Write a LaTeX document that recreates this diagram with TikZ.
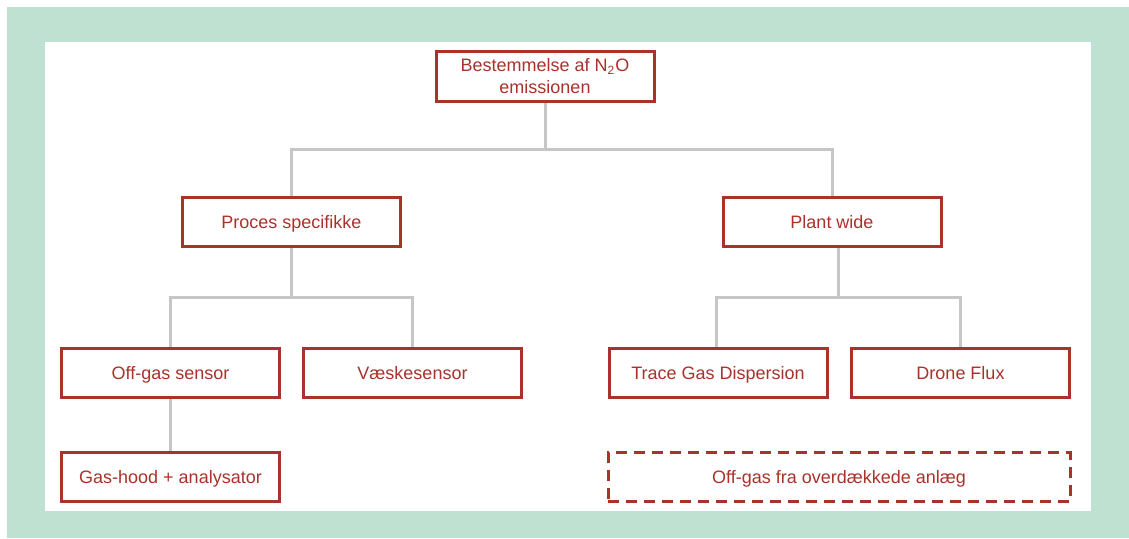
\documentclass[tikz,border=0pt]{standalone}
\usepackage{fontspec}
\setmainfont{Liberation Sans}
\usetikzlibrary{positioning}
\definecolor{cred}{HTML}{A9322B}
\definecolor{cgrey}{HTML}{C6C6C6}
\definecolor{cmint}{HTML}{BFE1D2}
\tikzset{
  every picture/.style={font=\fontsize{9}{11}\selectfont},
  box/.style={draw=cred, fill=white, text=cred, line width=1.5pt, align=center,
    minimum width=109pt, minimum height=24.5pt, inner sep=2pt,
    text height=1.6ex, text depth=.45ex},
  link/.style={draw=cgrey, line width=1.5pt},
}

\begin{document}
\begin{tikzpicture}[x=0.5pt, y=-0.5pt,
  wide/.style={box, minimum width=231pt},
  open/.style={wide, dash pattern=on 5.5pt off 3.5pt}]
  \useasboundingbox (0,0) rectangle (1129,538);
  \fill[cmint] (7,7) rectangle (1129,538);
  \fill[white] (45,42) rectangle (1091,511);
  % top and level one
  \node[box, minimum height=25pt, text height=, text depth=] (root) at (545,76.5) {Bestemmelse af N\textsubscript{2}O\\emissionen};
  \node[box] (proc) at (291.5,222) {Proces specifikke};
  \node[box] (plant) at (832,222) {Plant wide};
  % level two
  \node[box] (offgas) at (170.5,373) {Off-gas sensor};
  \node[box] (vaske) at (412.5,373) {Væskesensor};
  \node[box] (trace) at (718,373) {Trace Gas Dispersion};
  \node[box] (drone) at (960.5,373) {Drone Flux};
  % level three
  \node[box] (hood) at (170.5,477) {Gas-hood + analysator};
  \node[open] (cover) at (839,477) {Off-gas fra overdækkede anlæg};
  % connectors
  \draw[link] (root.south) -- ++(0,46) -| (proc.north);
  \draw[link] (root.south) ++(0,46) -| (plant.north);
  \draw[link] (proc.south) -- ++(0,49) -| (offgas.north);
  \draw[link] (proc.south) ++(0,49) -| (vaske.north);
  \draw[link] (plant.south) ++(6,0) -- ++(0,49) -| ([xshift=-1pt]trace.north);
  \draw[link] (plant.south) ++(6,49) -| (drone.north);
  \draw[link] (offgas) -- (hood);
\end{tikzpicture}
\end{document}
